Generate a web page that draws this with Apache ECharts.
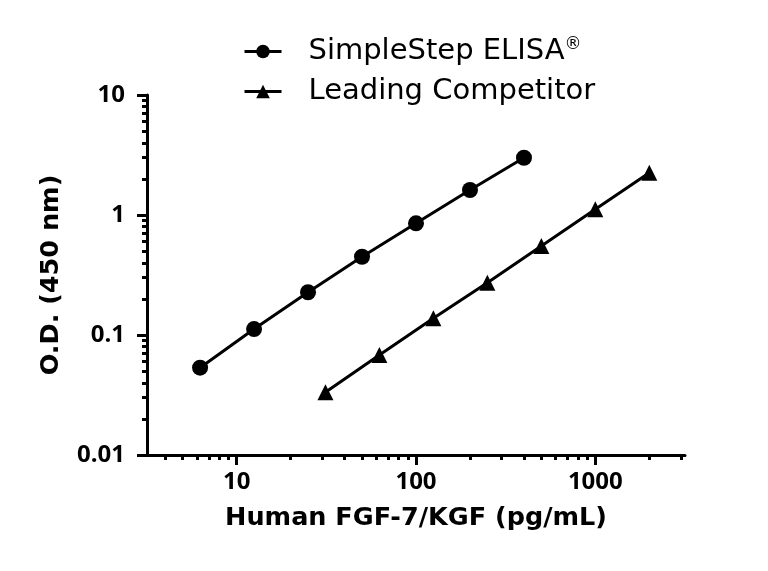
<!DOCTYPE html>
<html>
<head>
<meta charset="utf-8">
<script src="https://cdn.jsdelivr.net/npm/echarts@6/dist/echarts.min.js"></script>
<style>
  html, body { margin: 0; padding: 0; background: #fff; }
  #chart { width: 768px; height: 571px; }
</style>
</head>
<body>
<div id="chart"></div>
<script>
// concentrations (pg/mL)
const simpleStepX = [6.25, 12.5, 25, 50, 100, 200, 400];
const simpleStepY = [0.0534, 0.112, 0.227, 0.449, 0.853, 1.615, 3.0];
const competitorX = [31.25, 62.5, 125, 250, 500, 1000, 2000];
const competitorY = [0.0333, 0.068, 0.138, 0.273, 0.552, 1.116, 2.25];

const xMajorTicks = [10, 100, 1000];
const xMinorTicks = [4, 5, 6, 7, 8, 9, 20, 30, 40, 50, 60, 70, 80, 90, 200, 300, 400, 500, 600, 700, 800, 900, 2000, 3000];
const yMajorTicks = [0.01, 0.1, 1, 10];
const yMinorTicks = [0.02, 0.03, 0.04, 0.05, 0.06, 0.07, 0.08, 0.09, 0.2, 0.3, 0.4, 0.5, 0.6, 0.7, 0.8, 0.9, 2, 3, 4, 5, 6, 7, 8, 9];

const labelFont = 'Open Sans';
const titleFont = 'DejaVu Sans';
const pairs = (xs, ys) => xs.map((x, i) => [x, ys[i]]);

const chart = echarts.init(document.getElementById('chart'));

const baseX = {
    type: 'log',
    logBase: 10,
    min: Math.pow(10, 0.5),
    max: Math.pow(10, 3.5),
    position: 'bottom',
    splitLine: { show: false }
};
const baseY = {
    type: 'log',
    logBase: 10,
    min: 0.01,
    max: 10,
    position: 'left',
    splitLine: { show: false }
};

chart.setOption({
    animation: false,
    backgroundColor: '#fff',
    grid: { left: 147, right: 83, top: 95, bottom: 116 },
    legend: {
        orient: 'vertical',
        left: 243,
        top: 36,
        padding: 0,
        itemWidth: 37,
        itemHeight: 17,
        itemGap: 11,
        lineStyle: { width: 3, color: '#000' },
        textStyle: {
            fontFamily: titleFont,
            fontSize: 29,
            color: '#000',
            padding: [0, 0, 0, 22],
            rich: {
                sup: { fontSize: 17, fontFamily: titleFont, color: '#000', padding: [0, 0, 14, 0] }
            }
        },
        formatter: name => name === 'SimpleStep ELISA' ? 'SimpleStep ELISA{sup|®}' : name,
        data: ['SimpleStep ELISA', 'Leading Competitor']
    },
    xAxis: [
        Object.assign({}, baseX, {
            name: 'Human FGF-7/KGF (pg/mL)',
            nameLocation: 'middle',
            nameGap: 50,
            nameTextStyle: { fontFamily: titleFont, fontSize: 25.5, fontWeight: 'bold', color: '#000' },
            axisLine: { lineStyle: { color: '#000', width: 3 } },
            axisTick: { show: true, length: 10, lineStyle: { color: '#000', width: 3 }, customValues: xMajorTicks },
            axisLabel: {
                fontFamily: labelFont, fontSize: 24, fontWeight: 'bold', color: '#000', margin: 15,
                customValues: xMajorTicks,
                formatter: v => String(v)
            }
        }),
        Object.assign({}, baseX, {
            axisLine: { show: false },
            axisTick: { show: true, length: 5, lineStyle: { color: '#000', width: 3 }, customValues: xMinorTicks },
            axisLabel: { show: false }
        })
    ],
    yAxis: [
        Object.assign({}, baseY, {
            name: 'O.D. (450 nm)',
            nameLocation: 'middle',
            nameGap: 83,
            nameRotate: 90,
            nameTextStyle: { fontFamily: titleFont, fontSize: 25.5, fontWeight: 'bold', color: '#000' },
            axisLine: { lineStyle: { color: '#000', width: 3 } },
            axisTick: { show: true, length: 10, lineStyle: { color: '#000', width: 3 }, customValues: yMajorTicks },
            axisLabel: {
                fontFamily: labelFont, fontSize: 24, fontWeight: 'bold', color: '#000', margin: 22,
                customValues: yMajorTicks,
                formatter: v => String(v)
            }
        }),
        Object.assign({}, baseY, {
            axisLine: { show: false },
            axisTick: { show: true, length: 5, lineStyle: { color: '#000', width: 3 }, customValues: yMinorTicks },
            axisLabel: { show: false }
        })
    ],
    series: [
        {
            name: 'SimpleStep ELISA',
            type: 'line',
            data: pairs(simpleStepX, simpleStepY),
            symbol: 'circle',
            symbolSize: 16,
            lineStyle: { color: '#000', width: 3 },
            itemStyle: { color: '#000' }
        },
        {
            name: 'Leading Competitor',
            type: 'line',
            data: pairs(competitorX, competitorY),
            symbol: 'triangle',
            symbolSize: 16,
            lineStyle: { color: '#000', width: 3 },
            itemStyle: { color: '#000' }
        }
    ]
});
</script>
</body>
</html>
